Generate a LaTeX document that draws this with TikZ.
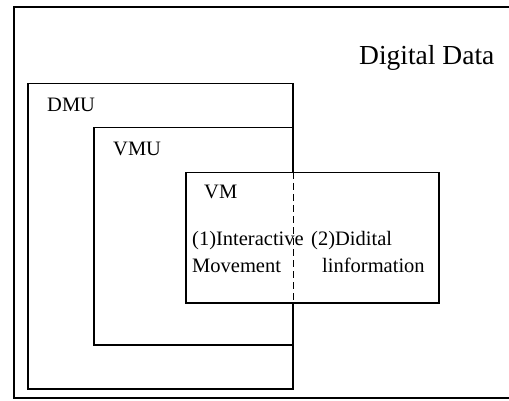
\documentclass[tikz,border=0pt]{standalone}
\usepackage{fontspec}
\setmainfont{Liberation Serif}
\usetikzlibrary{positioning}
\tikzset{
box/.style={draw, line width=1.5pt, inner sep=0pt, anchor=north west}, % plain rectangle
lbl/.style={inner sep=0pt, anchor=base west, font=\fontsize{20.5}{24}\selectfont}, % text in the boxes
}

\begin{document}
\begin{tikzpicture}[x=1pt,y=-1pt]
\useasboundingbox (0,0) rectangle (509,401);
% outer frame, open to the right
\draw[line width=1.2pt] (512,7) -| (14,398) -- (512,398);
\node[lbl, font=\fontsize{27.5}{32}\selectfont] (dd) at (359,65) {Digital Data};
\node[box, minimum width=265pt, minimum height=305pt] (dmu) at (27,83) {};
\node[box, minimum width=199pt, minimum height=217pt] (vmu) at (93,127) {};
\node[box, fill=white, minimum width=253pt, minimum height=130pt] (vm) at (185,172) {};
\draw[line width=1.3pt, dash pattern=on 7pt off 4pt] (vm.north -| dmu.east) -- (vm.south -| dmu.east);
\node[lbl] (DMU) at (47,112) {DMU};
\node[lbl] (VMU) at (113,156) {VMU};
\node[lbl] (VM) at (204,199) {VM};
\node[lbl] (int) at (192,245) {(1)Interactive};
\node[lbl] (mov) at ([yshift=-27pt]int.base west) {Movement};
\node[lbl] (did) at (311,245) {(2)Didital};
\node[lbl] (inf) at (322,272) {linformation};
\end{tikzpicture}
\end{document}
